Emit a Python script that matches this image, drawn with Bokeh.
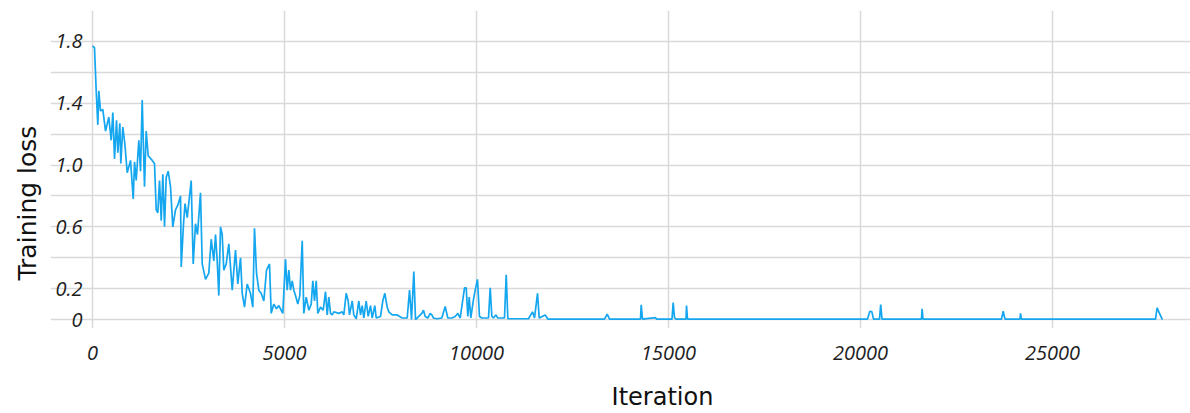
from bokeh.plotting import figure
from bokeh.models import Range1d, FixedTicker, Title
from bokeh.embed import file_html
from bokeh.resources import INLINE

# ---- data ----
iteration = [
    0, 52, 96, 138, 164, 208, 268, 339, 424, 487, 529, 573, 625, 659, 711, 737, 789, 841, 904, 990,
    1060, 1094, 1138, 1206, 1250, 1294, 1354, 1398, 1450, 1555, 1614, 1659, 1700, 1745, 1789, 1831,
    1875, 1919, 1971, 2031, 2091, 2161, 2221, 2292, 2310, 2370, 2409, 2466, 2570, 2622, 2682, 2734,
    2812, 2857, 2943, 3028, 3091, 3159, 3203, 3247, 3289, 3333, 3377, 3419, 3482, 3549, 3638, 3724,
    3784, 3854, 3898, 3958, 4028, 4114, 4174, 4218, 4271,
    4330, 4393, 4461, 4531, 4609, 4653, 4721, 4791, 4851, 4914, 4955, 5026, 5070, 5112, 5156, 5200,
    5242, 5286, 5346, 5398, 5461, 5502, 5565, 5633, 5695, 5737, 5781, 5825, 5867, 5937, 6007, 6067,
    6112, 6153, 6198, 6242, 6284, 6414, 6502, 6544, 6606, 6658, 6692, 6763, 6804, 6867, 6935, 6979,
    7023, 7065, 7127, 7179, 7239, 7283, 7351, 7388, 7500, 7559, 7612, 7674, 7716, 7804, 7934, 8065,
    8195, 8255, 8307, 8367, 8411, 8497, 8575, 8619, 8663, 8731, 8794, 8835, 8880, 8966, 9096, 9184,
    9252, 9356, 9445, 9513, 9575, 9687, 9731, 9773, 9809, 9851, 9921, 9965, 10025, 10077, 10137,
    10312, 10356, 10398, 10442, 10502, 10554, 10728, 10773, 10815, 11353, 11458, 11510, 11588, 11632,
    11788, 11856,
    13332, 13403, 13463, 14270, 14288, 14322, 14661, 14687, 15090, 15121, 15155, 15194, 15455, 15468,
    15494, 15832, 20181, 20243, 20295, 20337, 20493, 20525, 20558, 21587, 21603, 21626, 23670, 23715,
    23762, 24152, 24165, 24191, 27681, 27722, 27785, 27860,
]
training_loss = [
    1.77, 1.76, 1.48, 1.26, 1.48, 1.35, 1.36, 1.22, 1.31, 1.16, 1.34, 1.04, 1.29, 1.08, 1.27, 1.01,
    1.245, 1.14, 0.95, 1.03, 0.78, 1.02, 0.90, 1.16, 0.96, 1.42, 0.86, 1.22, 1.06, 1.03, 1.01, 0.71,
    0.69, 0.90, 0.64, 0.94, 0.60, 0.92, 0.96, 0.86, 0.60, 0.71, 0.74, 0.80, 0.34, 0.62, 0.75, 0.66,
    0.90, 0.36, 0.62, 0.55, 0.82, 0.36, 0.26, 0.30, 0.52, 0.38, 0.55, 0.38, 0.155, 0.60, 0.55, 0.32,
    0.36, 0.49, 0.19, 0.45, 0.23, 0.40, 0.17, 0.08, 0.23, 0.17, 0.08, 0.59, 0.30,
    0.19, 0.17, 0.12, 0.32, 0.36, 0.04, 0.10, 0.07, 0.09, 0.06, 0.04, 0.39, 0.19, 0.32, 0.19, 0.25,
    0.19, 0.155, 0.10, 0.155, 0.51, 0.04, 0.145, 0.06, 0.10, 0.25, 0.12, 0.25, 0.04, 0.08, 0.06, 0.18,
    0.03, 0.145, 0.04, 0.03, 0.05, 0.04, 0.05, 0.03, 0.17, 0.12, 0.03, 0.12, 0.03, 0.005, 0.12, 0.03,
    0.09, 0.01, 0.12, 0.02, 0.09, 0.01, 0.09, 0.01, 0.02, 0.12, 0.17, 0.08, 0.05, 0.03, 0.03, 0.01,
    0.01, 0.19, 0.0, 0.31, 0.0, 0.02, 0.04, 0.06, 0.02, 0.01, 0.04, 0.03, 0.01, 0.005, 0.01, 0.085,
    0.01, 0.01, 0.02, 0.04, 0.01, 0.205, 0.205, 0.02, 0.145, 0.01, 0.13, 0.19, 0.26, 0.02, 0.01,
    0.01, 0.205, 0.02, 0.01, 0.03, 0.01, 0.01, 0.29, 0.005, 0.005, 0.05, 0.01, 0.17, 0.01,
    0.03, 0.003,
    0.003, 0.035, 0.003, 0.003, 0.095, 0.003, 0.012, 0.003, 0.003, 0.11, 0.012, 0.003, 0.003, 0.09,
    0.003, 0.003, 0.003, 0.054, 0.05, 0.003, 0.003, 0.097, 0.003, 0.003, 0.07, 0.003, 0.003, 0.054,
    0.003, 0.003, 0.04, 0.003, 0.003, 0.075, 0.04, 0.0,
]

x_ticks = [0, 5000, 10000, 15000, 20000, 25000]
y_label_ticks = [0, 0.2, 0.6, 1.0, 1.4, 1.8]
y_label_texts = ["0", "0.2", "0.6", "1.0", "1.4", "1.8"]
y_grid_ticks = [0, 0.2, 0.4, 0.6, 0.8, 1.0, 1.2, 1.4, 1.6, 1.8, 2.0]
x_title = "Iteration"
y_title = "Training loss"

p = figure(width=1190, height=413,
           x_range=Range1d(-1094, 28592), y_range=Range1d(-0.058, 2.0),
           output_backend="svg", toolbar_location=None,
           min_border_left=50, min_border_right=0, min_border_top=10, min_border_bottom=85)
p.outline_line_color = None
p.background_fill_color = "white"

p.line(iteration, training_loss, line_color="#14a6ef", line_width=1.7)

tick_font = "Open Sans"

xa = p.xaxis[0]
xa.ticker = FixedTicker(ticks=x_ticks)
xa.axis_line_color = None
xa.major_tick_line_color = None
xa.minor_tick_line_color = None
xa.major_tick_out = 0
xa.major_tick_in = 0
xa.major_label_standoff = 17
xa.major_label_text_font = tick_font
xa.major_label_text_font_style = "italic"
xa.major_label_text_font_size = "20px"
xa.major_label_text_color = "#1e1e1e"
# the title sits right of the frame's centre in the reference: pad it with no-break spaces
xa.axis_label = "\u00a0" * 11 + x_title
xa.axis_label_standoff = 20
xa.axis_label_text_font = "DejaVu Sans"
xa.axis_label_text_font_size = "24px"
xa.axis_label_text_font_style = "normal"
xa.axis_label_text_color = "#111111"

ya = p.yaxis[0]
ya.ticker = FixedTicker(ticks=y_label_ticks)
ya.major_label_overrides = {t: s for t, s in zip(y_label_ticks, y_label_texts)}
ya.fixed_location = -182
ya.axis_line_color = None
ya.major_tick_line_color = None
ya.minor_tick_line_color = None
ya.major_tick_out = 0
ya.major_tick_in = 0
ya.major_label_standoff = 3
ya.major_label_text_font = tick_font
ya.major_label_text_font_style = "italic"
ya.major_label_text_font_size = "20px"
ya.major_label_text_color = "#1e1e1e"

p.xgrid[0].ticker = FixedTicker(ticks=x_ticks)
p.ygrid[0].ticker = FixedTicker(ticks=y_grid_ticks)
for g in (p.xgrid[0], p.ygrid[0]):
    g.grid_line_color = "#d9d9d9"
    g.grid_line_width = 1.5

p.add_layout(Title(text=y_title, align="left", offset=48, vertical_align="top", standoff=14,
                   text_font="DejaVu Sans", text_font_size="25px", text_font_style="normal",
                   text_color="#111111"), "left")

open("out.html", "w").write(file_html(p, INLINE))
